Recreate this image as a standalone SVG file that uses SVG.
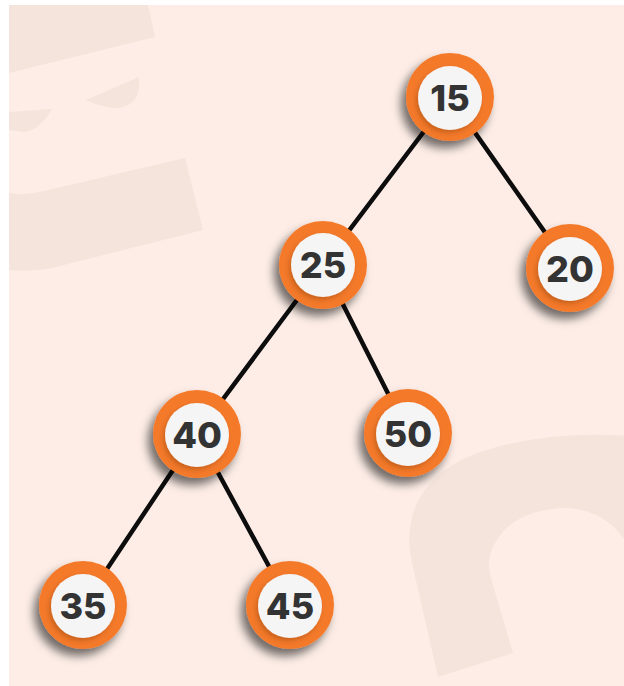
<svg xmlns="http://www.w3.org/2000/svg" width="624" height="686" viewBox="0 0 624 686">
  <style>
    .bgshape { fill: #f4e4dc; }
    .edge { stroke: #0d0d0d; stroke-width: 4.5; stroke-linecap: round; fill: none; }
    .ring { fill: #f47a2c; filter: url(#drop); }
    .face { fill: #f5f5f5; filter: url(#inner); }
    .label { font-family: Inter, "Open Sans", "Liberation Sans", sans-serif; font-weight: 800; font-size: 36px; fill: #333333; text-anchor: middle; dominant-baseline: central; }
  </style>
  <defs>
    <filter id="drop" x="-50%" y="-50%" width="200%" height="200%">
      <feDropShadow dx="-5" dy="7" stdDeviation="5" flood-color="#000000" flood-opacity="0.55"/>
    </filter>
    <filter id="inner" x="-50%" y="-50%" width="200%" height="200%">
      <feDropShadow dx="-2" dy="3" stdDeviation="2.5" flood-color="#7a3000" flood-opacity="0.35"/>
    </filter>
    <clipPath id="panel">
      <rect x="9" y="5" width="615" height="681"/>
    </clipPath>
  </defs>

  <!-- backdrop -->
  <rect x="9" y="5" width="615" height="681" fill="#fdede6"/>
  <g id="backdrop-letters" clip-path="url(#panel)">
    <path class="bgshape" d="M9,5 L148,5 L155,37 L9,73 Z"/>
    <path class="bgshape" d="M86,100 L139,77 L139,88 Q136,108 114,108 Q98,106 86,100 Z"/>
    <path class="bgshape" d="M9,112 L52,109 Q40,130 24,132 L9,130 Z"/>
    <path class="bgshape" d="M9,193 Q25,196 44,191 L185,158 L203,230 L52,268 Q28,272 9,270 Z"/>
    <path class="bgshape" d="M438,677 L412,563 C402,517 420,478 470,456 C515,438 575,432 630,436 L630,548 C615,523 597,510 567,508 C540,508 515,517 502,533 C491,547 487,558 490,575 L513,653 Z"/>
  </g>

  <!-- connectors -->
  <g id="edges">
    <line class="edge" x1="450" y1="97" x2="323" y2="265"/>
    <line class="edge" x1="450" y1="97" x2="570" y2="268"/>
    <line class="edge" x1="323" y1="265" x2="197" y2="434"/>
    <line class="edge" x1="323" y1="265" x2="408" y2="433"/>
    <line class="edge" x1="197" y1="434" x2="83" y2="605"/>
    <line class="edge" x1="197" y1="434" x2="290" y2="605"/>
  </g>

  <!-- nodes -->
  <g id="node-15">
    <circle class="ring" cx="450" cy="97" r="44"/>
    <circle class="face" cx="450" cy="98" r="32"/>
    <text class="label" x="450" y="98">15</text>
  </g>
  <g id="node-25">
    <circle class="ring" cx="323" cy="265" r="44"/>
    <circle class="face" cx="323" cy="265" r="32"/>
    <text class="label" x="323" y="265">25</text>
  </g>
  <g id="node-20">
    <circle class="ring" cx="570" cy="268" r="44"/>
    <circle class="face" cx="570" cy="269" r="32"/>
    <text class="label" x="570" y="269">20</text>
  </g>
  <g id="node-40">
    <circle class="ring" cx="197" cy="434" r="44"/>
    <circle class="face" cx="197" cy="435" r="32"/>
    <text class="label" x="197" y="435">40</text>
  </g>
  <g id="node-50">
    <circle class="ring" cx="408" cy="433" r="44"/>
    <circle class="face" cx="408" cy="434" r="32"/>
    <text class="label" x="408" y="434">50</text>
  </g>
  <g id="node-35">
    <circle class="ring" cx="83" cy="605" r="44"/>
    <circle class="face" cx="83" cy="606" r="32"/>
    <text class="label" x="83" y="606">35</text>
  </g>
  <g id="node-45">
    <circle class="ring" cx="290" cy="605" r="44"/>
    <circle class="face" cx="290" cy="606" r="32"/>
    <text class="label" x="290" y="606">45</text>
  </g>
</svg>
